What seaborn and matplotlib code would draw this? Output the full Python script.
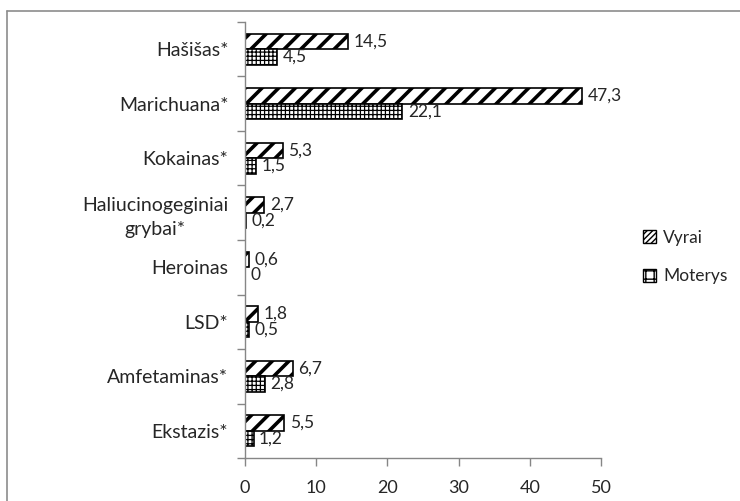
import matplotlib
matplotlib.use("Agg")
import matplotlib.pyplot as plt
import seaborn as sns
import pandas as pd
from matplotlib.patches import Patch
from matplotlib.lines import Line2D

categories = ["Hašišas*", "Marichuana*", "Kokainas*", "Haliucinogeginiai\ngrybai*",
              "Heroinas", "LSD*", "Amfetaminas*", "Ekstazis*"]
vyrai = [14.5, 47.3, 5.3, 2.7, 0.6, 1.8, 6.7, 5.5]
moterys = [4.5, 22.1, 1.5, 0.2, 0, 0.5, 2.8, 1.2]
series = ["Vyrai", "Moterys"]
xticks = [0, 10, 20, 30, 40, 50]

sns.set_theme(style="white")
plt.rcParams['font.family'] = ['Lato', 'DejaVu Sans']

df = pd.DataFrame({
    "cat": categories * 2,
    "val": vyrai + moterys,
    "ser": [series[0]] * len(categories) + [series[1]] * len(categories),
})

fig = plt.figure(figsize=(7.4, 5.01), dpi=100)
ax = fig.add_axes([245/740, 1 - 458/501, (601-245)/740, (458-22)/501])

sns.barplot(data=df, y="cat", x="val", hue="ser", orient="h", ax=ax,
            palette=["white", "white"], edgecolor="black", linewidth=1.2,
            width=0.56, legend=False, errorbar=None)

hatches = ["//", "++++"]
hlw = [2.6, 0.9]
for cont, h, lw, vals in zip(ax.containers, hatches, hlw, [vyrai, moterys]):
    for p in cont.patches:
        p.set_hatch(h)
        p.set_edgecolor("black")
        try:
            p.set_hatch_linewidth(lw)
        except Exception:
            pass
    labels = [f"{v:g}".replace(".", ",") for v in vals]
    ax.bar_label(cont, labels=labels, padding=4, fontsize=12.5, color="#262626")

ax.set_xlim(0, 50)
ax.set_ylim(7.5, -0.5)
ax.set_xticks(xticks)
ax.set_xticklabels([str(t) for t in xticks], fontsize=13, color="#262626")
ax.set_ylabel("")
ax.set_xlabel("")
ax.set_yticks(range(len(categories)))
ax.set_yticklabels(categories, fontsize=14, color="#262626", ha="right",
                   multialignment="center", linespacing=1.45)
ax.tick_params(axis="y", length=0, pad=12)
ax.set_yticks([i - 0.5 for i in range(len(categories) + 1)], minor=True)
ax.tick_params(axis="y", which="minor", length=6, color="#868686", width=1, direction="out", left=True)
ax.tick_params(axis="x", length=6, color="#868686", width=1, direction="out", bottom=True, pad=10)
for s in ["top", "right"]:
    ax.spines[s].set_visible(False)
for s in ["left", "bottom"]:
    ax.spines[s].set_color("#868686")
    ax.spines[s].set_linewidth(1)

lh0 = Patch(facecolor="white", edgecolor="black", hatch="//////")
lh1 = Patch(facecolor="white", edgecolor="black", hatch="++")
fig.legend([lh0, lh1], series, loc="center left", bbox_to_anchor=(643/740, 1 - 257/501),
           frameon=False, fontsize=12.5, handlelength=0.75, handleheight=0.75,
           handletextpad=0.4, labelspacing=1.3, borderpad=0, borderaxespad=0)

fig.add_artist(Line2D([7/740, 7/740], [0, 1 - 11/501], transform=fig.transFigure,
                      color="#8c8c8c", linewidth=1.2))
fig.add_artist(Line2D([7/740, 1], [1 - 11/501, 1 - 11/501], transform=fig.transFigure,
                      color="#8c8c8c", linewidth=1.2))

fig.savefig("out.png", dpi=100, facecolor="white")
